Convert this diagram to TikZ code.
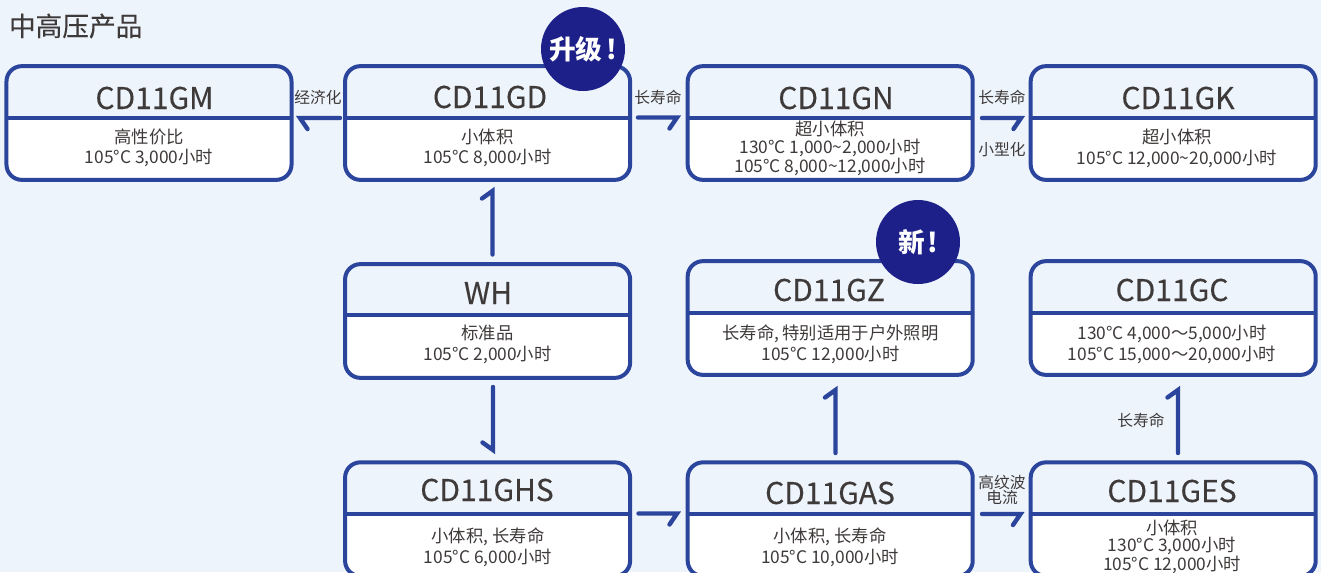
\documentclass[tikz,border=0pt]{standalone}
\usepackage{fontspec}
\setmainfont{Noto Sans CJK SC}
\newfontfamily\titlefont[FakeBold=0.25]{Noto Sans CJK SC}
\usetikzlibrary{arrows.meta}

\definecolor{pagebg}{RGB}{238,244,252}
\definecolor{boxblue}{RGB}{43,69,156}
\definecolor{badgeblue}{RGB}{29,32,136}
\definecolor{inkgrey}{RGB}{62,58,57}

\tikzset{
  every picture/.style={line width=0.75pt},
  prodbox/.style={draw=boxblue,line width=3pt,rounded corners=11.5pt,inner sep=0pt,minimum width=213.8pt,minimum height=85.3pt},
  lowerpart/.style={fill=white,rounded corners=11.5pt},
  divider/.style={draw=boxblue,line width=3pt},
  titletext/.style={inner sep=0pt,text=inkgrey,font=\titlefont\fontsize{22.5}{24}\selectfont},
  bodytext/.style={inner sep=0pt,align=center,text=inkgrey,font=\fontsize{13}{15.4}\selectfont},
  bodytight/.style={bodytext,font=\fontsize{13}{13}\selectfont},
  linktext/.style={inner sep=0pt,align=center,text=inkgrey,font=\fontsize{11.8}{11.5}\selectfont},
  badge/.style={circle,fill=badgeblue,minimum size=63pt,inner sep=0pt,text=white,font=\fontsize{20}{21}\bfseries\selectfont},
  link/.style={draw=boxblue,line width=3.3pt,line cap=round,line join=miter},
}

\begin{document}
\begin{tikzpicture}[x=0.75pt,y=-0.75pt]
\useasboundingbox (0,0) rectangle (1321,572);
\fill [pagebg] (0,0) rectangle (1321,572);

% Heading
\node [anchor=west,inner sep=0pt,text=inkgrey,font=\titlefont\fontsize{20}{21}\selectfont] (heading) at (8.5,26) {中高压产品};

% CD11GM
\path [lowerpart] (7,118) [sharp corners] -- (291.2,118) [rounded corners=11.5pt] -- (291.2,180) -- (7,180) [sharp corners] -- cycle;
\node [prodbox] (gm) at (149,123) {};
\draw [divider] (7,117.5) -- (291.2,117.5);
\node [titletext] (gmtitle) at (154.5,98) {CD11GM};
\node [bodytext] (gmbody) at (149,148) {高性价比\\105°C 3,000小时};

% CD11GD
\path [lowerpart] (345.2,118) [sharp corners] -- (630,118) [rounded corners=11.5pt] -- (630,180) -- (345.2,180) [sharp corners] -- cycle;
\node [prodbox] (gd) at (487.6,123) {};
\draw [divider] (345.2,118) -- (630,118);
\node [titletext] (gdtitle) at (490,97) {CD11GD};
\node [bodytext] (gdbody) at (487.5,148) {小体积\\105°C 8,000小时};

% CD11GN
\path [lowerpart] (688,118) [sharp corners] -- (972.4,118) [rounded corners=11.5pt] -- (972.4,180) -- (688,180) [sharp corners] -- cycle;
\node [prodbox] (gn) at (830.2,123) {};
\draw [divider] (688,117.5) -- (972.4,117.5);
\node [titletext] (gntitle) at (836,98) {CD11GN};
\node [bodytight] (gnbody) at (830,148.5) {超小体积\\130°C 1,000\textasciitilde2,000小时\\105°C 8,000\textasciitilde12,000小时};

% CD11GK
\path [lowerpart] (1031,118) [sharp corners] -- (1315.4,118) [rounded corners=11.5pt] -- (1315.4,180) -- (1031,180) [sharp corners] -- cycle;
\node [prodbox] (gk) at (1173.2,123) {};
\draw [divider] (1031,117.5) -- (1315.4,117.5);
\node [titletext] (gktitle) at (1178,98) {CD11GK};
\node [bodytext] (gkbody) at (1177,148.5) {超小体积\\105°C 12,000\textasciitilde20,000小时};

% WH
\path [lowerpart] (345.2,315) [sharp corners] -- (630,315) [rounded corners=11.5pt] -- (630,377) -- (345.2,377) [sharp corners] -- cycle;
\node [prodbox] (wh) at (487.6,321) {};
\draw [divider] (345.2,315) -- (630,315);
\node [titletext] (whtitle) at (488,293) {WH};
\node [bodytext] (whbody) at (487.5,344.5) {标准品\\105°C 2,000小时};

% CD11GZ
\path [lowerpart] (688,313) [sharp corners] -- (972.4,313) [rounded corners=11.5pt] -- (972.4,374) -- (688,374) [sharp corners] -- cycle;
\node [prodbox] (gz) at (830.2,318) {};
\draw [divider] (688,313) -- (972.4,313);
\node [titletext] (gztitle) at (829,290) {CD11GZ};
\node [bodytext] (gzbody) at (830.5,344.5) {长寿命,\,特别适用于户外照明\\105°C 12,000小时};

% CD11GC
\path [lowerpart] (1031,313) [sharp corners] -- (1315.4,313) [rounded corners=11.5pt] -- (1315.4,374) -- (1031,374) [sharp corners] -- cycle;
\node [prodbox] (gc) at (1173.2,318) {};
\draw [divider] (1031,313) -- (1315.4,313);
\node [titletext] (gctitle) at (1172,290) {CD11GC};
\node [bodytext] (gcbody) at (1172,344.5) {130°C 4,000〜5,000小时\\105°C 15,000〜20,000小时};

% CD11GHS
\path [lowerpart] (345.2,514) [sharp corners] -- (630,514) [rounded corners=11.5pt] -- (630,575) -- (345.2,575) [sharp corners] -- cycle;
\node [prodbox] (ghs) at (487.6,519.2) {};
\draw [divider] (345.2,514) -- (630,514);
\node [titletext] (ghstitle) at (487,490) {CD11GHS};
\node [bodytext] (ghsbody) at (488,547.5) {小体积, 长寿命\\105°C 6,000小时};

% CD11GAS
\path [lowerpart] (688,514) [sharp corners] -- (972.4,514) [rounded corners=11.5pt] -- (972.4,575) -- (688,575) [sharp corners] -- cycle;
\node [prodbox] (gas) at (830.2,519.2) {};
\draw [divider] (688,514) -- (972.4,514);
\node [titletext] (gastitle) at (830,493) {CD11GAS};
\node [bodytext] (gasbody) at (830,547.5) {小体积, 长寿命\\105°C 10,000小时};

% CD11GES
\path [lowerpart] (1031,514) [sharp corners] -- (1315.4,514) [rounded corners=11.5pt] -- (1315.4,575) -- (1031,575) [sharp corners] -- cycle;
\node [prodbox] (ges) at (1173.2,519.2) {};
\draw [divider] (1031,514) -- (1315.4,514);
\node [titletext] (gestitle) at (1172,491) {CD11GES};
\node [bodytight] (gesbody) at (1172,547) {小体积\\130°C 3,000小时\\105°C 12,000小时};

% Badges
\node [badge] (upbadge) at (583,49) {升级\kern3pt!};
\node [badge] (newbadge) at (918,242) {新\kern2pt!};

% Link ends
\coordinate (gdwest) at (340,118);
\coordinate (gmeast) at (300,118);
\coordinate (gdeast) at (638,117.5);
\coordinate (gnwest) at (677,117.5);
\coordinate (gneast) at (982,118);
\coordinate (gkwest) at (1021,118);
\coordinate (whnorth) at (492.5,254.5);
\coordinate (gdsouth) at (492.5,191);
\coordinate (whsouth) at (493,387);
\coordinate (ghsnorth) at (493,450);
\coordinate (ghseast) at (638.5,513.5);
\coordinate (gaswest) at (677,513.5);
\coordinate (gaseast) at (982,514);
\coordinate (geswest) at (1020.5,514);
\coordinate (gasnorth) at (835.5,453);
\coordinate (gzsouth) at (835.5,390);
\coordinate (gesnorth) at (1178,453);
\coordinate (gcsouth) at (1178,390);

% Links
\draw [link] (gdwest) -- (gmeast) -- ++(7.5,11);
\draw [link] (gdeast) -- (gnwest) -- ++(-7.5,11);
\draw [link] (gneast) -- (gkwest) -- ++(-7.5,11);
\draw [link] (whnorth) -- (gdsouth) -- ++(-10.5,7.5);
\draw [link] (whsouth) -- (ghsnorth) -- ++(-10.5,-7.5);
\draw [link] (ghseast) -- (gaswest) -- ++(-7.5,11);
\draw [link] (gaseast) -- (geswest) -- ++(-7.5,11);
\draw [link] (gasnorth) -- (gzsouth) -- ++(-10.5,7.5);
\draw [link] (gesnorth) -- (gcsouth) -- ++(-10.5,7.5);

% Link labels
\node [linktext] (costlabel) at (318,97.5) {经济化};
\node [linktext] (lifelabela) at (658,97.5) {长寿命};
\node [linktext] (lifelabelb) at (1002,97.5) {长寿命};
\node [linktext] (sizelabel) at (1002,149.5) {小型化};
\node [linktext] (lifelabelc) at (1141,420.5) {长寿命};
\node [linktext] (ripplelabel) at (1002,490) {高纹波\\电流};

\end{tikzpicture}
\end{document}
